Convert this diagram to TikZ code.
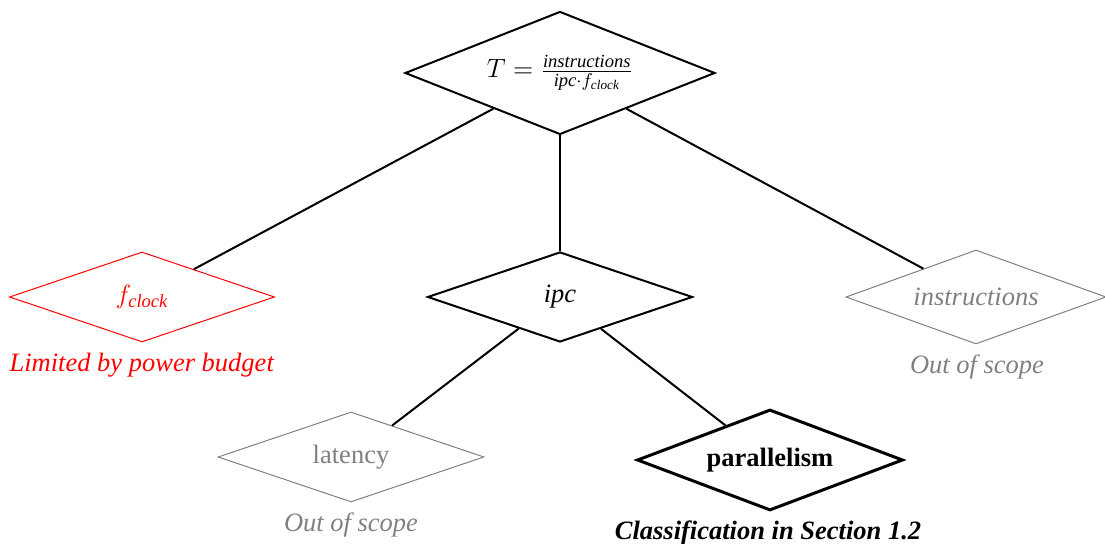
\documentclass[tikz,border=0pt]{standalone}
\usepackage{fix-cm}
\usepackage{fontspec}
\setmainfont{Liberation Serif}
\usetikzlibrary{shapes.geometric}
\begin{document}
\begin{tikzpicture}[x=0.5pt,y=-0.5pt,
  font=\fontsize{13.25}{16}\selectfont,
  dia/.style n args={3}{diamond, draw, inner sep=0pt, aspect=#3,
    minimum width=#1pt, minimum height=#2pt},
  strong/.style={line width=1pt, draw=black, text=black},
  faded/.style={line width=0.5pt, draw=gray, text=gray},
  alert/.style={line width=0.5pt, draw=red, text=red},
  key/.style={line width=1.5pt, draw=black, text=black, font=\fontsize{13.25}{16}\selectfont\bfseries},
  note/.style={anchor=base, inner sep=0pt},
  link/.style={line width=1pt}]
  \useasboundingbox (0,0) rectangle (1105,544);

  % the equation at the root
  \node[dia={155}{61.5}{2.52}, strong] (time) at (560,73)
    {$T = \frac{\mathit{instructions}}{\mathit{ipc}\cdot f_{\mathit{clock}}}$};

  % its three factors
  \node[dia={132.5}{45}{2.94}, alert] (clock) at (142,297) {$f_{\mathit{clock}}$};
  \node[dia={132.5}{45}{2.94}, strong] (ipc) at (560,297) {\textit{ipc}};
  \node[dia={130}{47}{2.77}, faded] (instr) at (976,297) {\textit{instructions}};

  % what ipc depends on
  \node[dia={133}{45}{2.96}, faded] (lat) at (351,457) {latency};
  \node[dia={133}{50.5}{2.63}, key] (par) at (770,460) {parallelism};

  % captions under the factors
  \node[note, text=red] (clocknote) at (142,372) {\textit{Limited by power budget}};
  \node[note, text=gray] (instrnote) at (977,374) {\textit{Out of scope}};
  \node[note, text=gray] (latnote) at (351,532) {\textit{Out of scope}};
  \node[note, font=\fontsize{13.25}{16}\selectfont\bfseries\itshape] (parnote) at (768,540)
    {Classification in Section 1.2};

  % tree edges
  \draw[link] (time) -- (clock);
  \draw[link] (time) -- (ipc);
  \draw[link] (time) -- (instr);
  \draw[link] (ipc) -- (lat);
  \draw[link] (ipc) -- (par);
\end{tikzpicture}
\end{document}
